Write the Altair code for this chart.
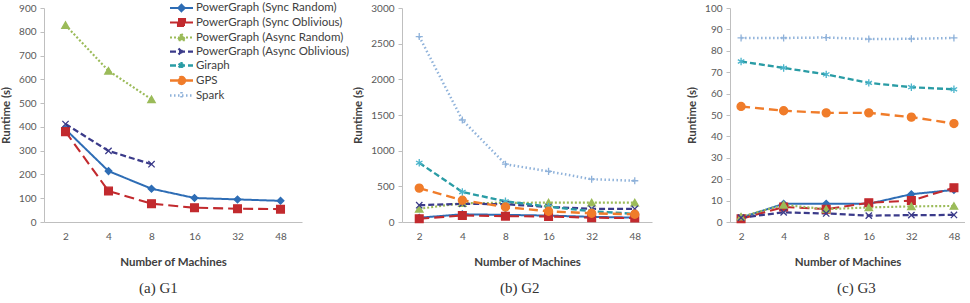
import altair as alt
import pandas as pd

machines = ["2", "4", "8", "16", "32", "48"]
series = ["PowerGraph (Sync Random)", "PowerGraph (Sync Oblivious)",
          "PowerGraph (Async Random)", "PowerGraph (Async Oblivious)",
          "Giraph", "GPS", "Spark"]

# G1 (only PowerGraph variants; async runs only up to 8 machines)
g1_sync_random = [390, 214, 140, 101, 95, 89]
g1_sync_oblivious = [380, 130, 77, 60, 56, 54]
g1_async_random = [828, 636, 516]
g1_async_oblivious = [412, 299, 243]

# G2
g2_sync_random = [60, 108, 100, 90, 72, 62]
g2_sync_oblivious = [45, 92, 82, 78, 60, 55]
g2_async_random = [185, 265, 268, 272, 272, 272]
g2_async_oblivious = [235, 255, 250, 210, 185, 183]
g2_giraph = [830, 420, 290, 215, 150, 115]
g2_gps = [475, 305, 210, 150, 122, 108]
g2_spark = [2600, 1430, 810, 710, 600, 578]

# G3
g3_sync_random = [2, 8.5, 8.5, 8.5, 13, 15]
g3_sync_oblivious = [1.5, 7, 6, 9, 10, 16]
g3_async_random = [2.5, 8, 6, 6.8, 7.3, 7.5]
g3_async_oblivious = [2, 4.5, 4, 3, 3.2, 3.3]
g3_giraph = [75, 72, 69, 65, 63, 62]
g3_gps = [54, 52, 51, 51, 49, 46]
g3_spark = [86, 86, 86.2, 85.5, 85.6, 86]

line_colors = ["#2e6db5", "#c22a2e", "#9bbb59", "#3b3b8a", "#2a9ca5", "#f07c2a", "#8fb2da"]
marker_colors = ["#2e6db5", "#c22a2e", "#9bbb59", "#3b3b8a", "#4bb5cc", "#f07c2a", "#8fb2da"]
dashes = [[1, 0], [10, 5], [2, 2], [6, 3], [6, 3], [9, 5], [1.5, 2.5]]
widths = [2, 2.5, 1.5, 2.2, 2.5, 2.2, 1.5]
shapes = ["diamond", "square", "triangle-up", "M-1,-1L1,1M-1,1L1,-1",
          "M0,-1V1M-0.87,-0.5L0.87,0.5M-0.87,0.5L0.87,-0.5", "circle",
          "M-1,0L1,0M0,-1L0,1"]
sizes = [45, 60, 55, 40, 55, 65, 50]
# legend symbols: a line segment with the marker in its middle
legend_shapes = [
    "M-2.3,0H2.3M0,-0.65L0.65,0L0,0.65L-0.65,0Z",
    "M-2.3,0H2.3M-0.7,-0.7H0.7V0.7H-0.7Z",
    "M-2.3,0H2.3M0,-0.75L0.75,0.55H-0.75Z",
    "M-2.3,0H2.3M-0.6,-0.6L0.6,0.6M-0.6,0.6L0.6,-0.6",
    "M-2.3,0H2.3M0,-0.7V0.7M-0.6,-0.35L0.6,0.35M-0.6,0.35L0.6,-0.35",
    "M-2.3,0H2.3M0.7,0A0.7,0.7,0,1,1,-0.7,0A0.7,0.7,0,1,1,0.7,0Z",
    "M-2.3,0H2.3M0,-0.7V0.7",
]


def frame(data):
    rows = []
    for name, vals in data.items():
        for m, v in zip(machines, vals):
            rows.append({"series": name, "machines": m, "value": v})
    return pd.DataFrame(rows)


df1 = frame({series[0]: g1_sync_random, series[1]: g1_sync_oblivious,
             series[2]: g1_async_random, series[3]: g1_async_oblivious})
df2 = frame({series[0]: g2_sync_random, series[1]: g2_sync_oblivious,
             series[2]: g2_async_random, series[3]: g2_async_oblivious,
             series[4]: g2_giraph, series[5]: g2_gps, series[6]: g2_spark})
df3 = frame({series[0]: g3_sync_random, series[1]: g3_sync_oblivious,
             series[2]: g3_async_random, series[3]: g3_async_oblivious,
             series[4]: g3_giraph, series[5]: g3_gps, series[6]: g3_spark})

FONT = "Lato"


def panel(df, ymax, ystep, xrange, xpad, width, caption, cap_dx):
    x = alt.X("machines:O", sort=machines, title="Number of Machines",
              scale=alt.Scale(type="point", range=xrange, padding=xpad),
              axis=alt.Axis(labelAngle=0, ticks=False, labelPadding=9,
                            titlePadding=15))
    y = alt.Y("value:Q", title="Runtime (s)",
              scale=alt.Scale(domain=[0, ymax], nice=False),
              axis=alt.Axis(values=list(range(0, ymax + 1, ystep)), grid=False,
                            format="d", tickSize=4, labelPadding=4, titlePadding=7))
    line = alt.Chart(df).mark_line().encode(
        x=x, y=y,
        color=alt.Color("series:N", scale=alt.Scale(domain=series, range=line_colors),
                        legend=alt.Legend(title=None, orient="none", legendX=131, legendY=-6,
                                          symbolSize=100, symbolStrokeWidth=1.8,
                                          labelFontSize=11.5, labelFont=FONT,
                                          labelColor="#404040", rowPadding=-2.3,
                                          labelOffset=8)),
        strokeDash=alt.StrokeDash("series:N", scale=alt.Scale(domain=series, range=dashes)),
        strokeWidth=alt.StrokeWidth("series:N", scale=alt.Scale(domain=series, range=widths),
                                    legend=None),
    )
    # invisible helper layer (no rows pass the filter) that only feeds the legend symbols
    helper = alt.Chart(df).transform_filter("datum.value < 0").mark_point(
        opacity=1, strokeWidth=1.5).encode(
        x=x, y=y,
        stroke=alt.Stroke("series:N", scale=alt.Scale(domain=series, range=marker_colors),
                          legend=None),
        fill=alt.Fill("series:N", scale=alt.Scale(domain=series, range=marker_colors),
                      legend=None),
        shape=alt.Shape("series:N", scale=alt.Scale(domain=series, range=legend_shapes),
                        legend=None),
    )
    layers = [line, helper]
    for i, s in enumerate(series):
        layers.append(
            alt.Chart(df).transform_filter(alt.datum.series == s).mark_point(
                shape=shapes[i], size=sizes[i], filled=True, fill=marker_colors[i],
                stroke=marker_colors[i], strokeWidth=1.3, opacity=1,
            ).encode(x=x, y=y)
        )
    return alt.layer(*layers).properties(
        width=width, height=214,
        title=alt.TitleParams(caption, orient="bottom", anchor="start", frame="group",
                              dx=cap_dx, font="Liberation Serif", fontSize=15,
                              fontWeight="normal", color="#333333", offset=13),
    )


p1 = panel(df1, 900, 100, [0, 258], 0.5, 300, "(a) G1", 95)
p2 = panel(df2, 3000, 500, [0, 250], 0.4, 276, "(b) G2", 98)
p3 = panel(df3, 100, 10, [0, 235], 0.26, 235, "(c) G3", 107)

chart = alt.hconcat(p1, p2, p3, spacing=8).resolve_scale(
    color="shared", strokeDash="shared"
).properties(
    padding={"left": 0, "top": 2, "right": 0, "bottom": 0},
    background="white",
).configure_view(stroke=None).configure_axis(
    domainColor="#bfbfbf", tickColor="#bfbfbf", labelColor="#595959",
    labelFont=FONT, labelFontSize=10, titleFont=FONT, titleFontSize=11.5,
    titleFontWeight="bold", titleColor="#404040",
)

chart.save("out.html", embed_options={"renderer": "svg", "actions": False})
